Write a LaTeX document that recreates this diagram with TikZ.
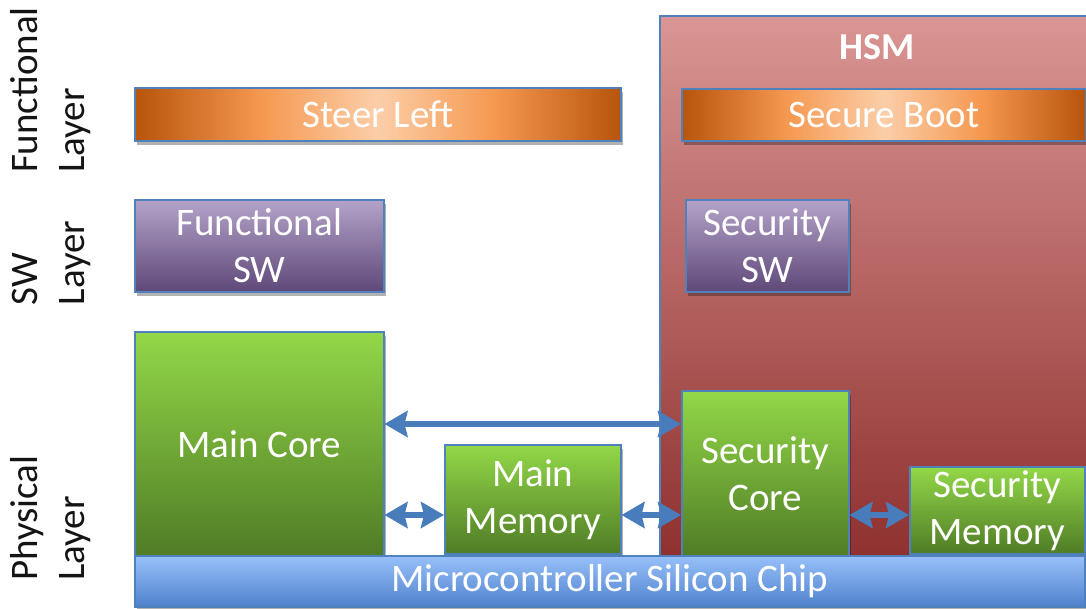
\documentclass[tikz,border=0pt]{standalone}
\usepackage{fontspec}
\setmainfont{Carlito}
\usetikzlibrary{arrows.meta,shadows}

\definecolor{edgeblue}{RGB}{79,129,189}
\definecolor{arrowblue}{RGB}{72,124,186}
\definecolor{orEdge}{RGB}{184,84,12}
\definecolor{orMid}{RGB}{245,152,80}
\definecolor{orCenter}{RGB}{251,206,168}
\definecolor{purTop}{RGB}{180,163,201}
\definecolor{purBot}{RGB}{94,72,121}
\definecolor{grnTop}{RGB}{146,216,72}
\definecolor{grnBot}{RGB}{80,124,38}
\definecolor{bluTop}{RGB}{152,192,250}
\definecolor{bluBot}{RGB}{78,130,204}
\definecolor{hsmTop}{RGB}{218,150,148}
\definecolor{hsmBot}{RGB}{142,48,46}
\definecolor{labelgray}{RGB}{20,20,20}

% the shaded path is mapped onto the band from 25bp to 75bp
\pgfdeclarehorizontalshading{orangebar}{100bp}{%
  color(0bp)=(orEdge); color(25bp)=(orEdge); color(38bp)=(orMid);
  color(50bp)=(orCenter); color(62bp)=(orMid); color(75bp)=(orEdge);
  color(100bp)=(orEdge)}

\tikzset{
  txt/.style={font=\fontsize{39}{47}\selectfont, text=white, align=center},
  blockbase/.style={draw=edgeblue, line width=1.5pt, inner sep=0pt,
    anchor=north west, txt,
    drop shadow={shadow xshift=2pt, shadow yshift=-4pt, opacity=0.3, fill=black}},
  funcbar/.style={blockbase, shading=orangebar},
  swbox/.style={blockbase, top color=purTop, bottom color=purBot},
  hwbox/.style={blockbase, top color=grnTop, bottom color=grnBot},
  chipbar/.style={blockbase, top color=bluTop, bottom color=bluBot},
  hsmarea/.style={draw=edgeblue, line width=1.5pt, inner sep=0pt, anchor=north west,
    top color=hsmTop, bottom color=hsmBot},
  layerlabel/.style={font=\fontsize{39}{47}\selectfont, text=labelgray,
    align=left, rotate=90, anchor=center},
  biarrow/.style={draw=arrowblue, line width=5.5pt,
    {Stealth[length=23pt, width=26pt, inset=3pt]}-{Stealth[length=23pt, width=26pt, inset=3pt]}}
}

\begin{document}
\begin{tikzpicture}[x=1pt, y=-1pt]
  \clip (0,0) rectangle (1086,608);
  \fill[white] (0,0) rectangle (1086,608);

  % layer captions on the left
  \node[layerlabel] (lfun) at (51,90)  {Functional\\Layer};
  \node[layerlabel] (lsw)  at (51,263) {SW\\Layer};
  \node[layerlabel] (lphy) at (51,518) {Physical\\Layer};

  % hardware security module region
  \node[hsmarea, minimum width=445pt, minimum height=545pt] (hsm) at (659,15) {};
  \node[font=\fontsize{38}{46}\selectfont\bfseries, text=white] (hsmt) at (877,47) {HSM};

  % functional layer
  \node[funcbar, minimum width=486pt, minimum height=53pt] (steer) at (134,87) {Steer Left};
  \node[funcbar, minimum width=404pt, minimum height=52pt] (boot) at (681,88) {Secure Boot};

  % software layer
  \node[swbox, minimum width=249pt, minimum height=92pt] (fsw) at (134,199) {Functional\\SW};
  \node[swbox, minimum width=163pt, minimum height=92pt] (ssw) at (685,199) {Security\\SW};

  % physical layer
  \node[hwbox, minimum width=249pt, minimum height=224pt] (mc) at (134,331) {Main Core};
  \node[hwbox, minimum width=176pt, minimum height=109pt] (mm) at (444,444) {Main\\Memory};
  \node[hwbox, minimum width=167pt, minimum height=165pt] (sc) at (681,390) {Security\\Core};
  \node[hwbox, minimum width=175pt, minimum height=87pt] (sm) at (909,466) {Security\\Memory};

  \node[chipbar, minimum width=950pt, minimum height=51pt] (chip) at (134,555) {Microcontroller Silicon Chip};

  % interconnects
  \draw[biarrow] (mc.east |- 0,424) -- (sc.west |- 0,424);
  \draw[biarrow] (mc.east |- 0,515) -- (mm.west |- 0,515);
  \draw[biarrow] (mm.east |- 0,515) -- (sc.west |- 0,515);
  \draw[biarrow] (sc.east |- 0,515) -- (sm.west |- 0,515);
\end{tikzpicture}
\end{document}
